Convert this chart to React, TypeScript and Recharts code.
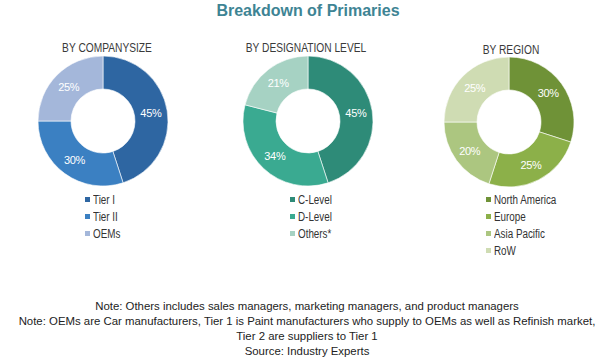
import { Pie, PieChart, Cell } from "recharts";

const companyLabels = ["Tier I", "Tier II", "OEMs"];
const companyValues = [45, 30, 25];
const companyColors = ["#2e66a2", "#3b80c2", "#a4b7da"];

const designationLabels = ["C-Level", "D-Level", "Others*"];
const designationValues = [45, 34, 21];
const designationColors = ["#2e8b78", "#3aaa91", "#a6d2c3"];

const regionLabels = ["North America", "Europe", "Asia Pacific", "RoW"];
const regionValues = [30, 25, 20, 25];
const regionColors = ["#6f9237", "#8cb049", "#acc680", "#cfdcb3"];

const notes = [
  "Note: Others includes sales managers, marketing managers, and product managers",
  "Note: OEMs are Car manufacturers, Tier 1 is Paint manufacturers who supply to OEMs as well as Refinish market,",
  "Tier 2 are suppliers to Tier 1",
  "Source: Industry Experts",
];

const RADIAN = Math.PI / 180;
const sans = "'Liberation Sans', Arial, sans-serif";

function renderLabel(props: any) {
  const { cx, cy, midAngle, innerRadius, outerRadius, value } = props;
  const r = (innerRadius + outerRadius) / 2;
  const x = cx + r * Math.cos(-midAngle * RADIAN);
  const y = cy + r * Math.sin(-midAngle * RADIAN);
  return (
    <text
      x={x}
      y={y}
      fill="#fff"
      textAnchor="middle"
      dominantBaseline="central"
      fontSize={11}
      fontFamily={sans}
      letterSpacing={-0.3}
    >
      {value}%
    </text>
  );
}

type DonutProps = {
  title: string;
  labels: string[];
  values: number[];
  colors: string[];
  cx: number;
  cy: number;
  titleX: number;
  titleY: number;
  legendX: number;
};

function Donut({ title, labels, values, colors, cx, cy, titleX, titleY, legendX }: DonutProps) {
  const data = labels.map((name, i) => ({ name, value: values[i] }));
  const size = 150;
  return (
    <>
      <div
        style={{
          position: "absolute",
          left: titleX - 100,
          top: titleY - 8,
          width: 200,
          textAlign: "center",
          fontFamily: sans,
          fontSize: 12,
          lineHeight: "16px",
          color: "#3a3a3a",
          transform: "scaleX(0.85)",
        }}
      >
        {title}
      </div>
      <div style={{ position: "absolute", left: cx - size / 2, top: cy - size / 2 }}>
        <PieChart width={size} height={size} margin={{ top: 0, right: 0, bottom: 0, left: 0 }}>
          <Pie
            data={data}
            dataKey="value"
            cx="50%"
            cy="50%"
            innerRadius={32}
            outerRadius={65}
            startAngle={90}
            endAngle={-270}
            stroke="#ffffff"
            strokeWidth={0.6}
            label={renderLabel}
            labelLine={false}
            isAnimationActive={false}
          >
            {data.map((d, i) => (
              <Cell key={d.name} fill={colors[i]} />
            ))}
          </Pie>
        </PieChart>
      </div>
      <div style={{ position: "absolute", left: legendX, top: 191 }}>
        {labels.map((name, i) => (
          <div
            key={name}
            style={{
              display: "flex",
              alignItems: "center",
              height: 17,
              fontFamily: sans,
              fontSize: 12,
              color: "#333",
            }}
          >
            <span
              style={{ display: "inline-block", width: 5, height: 5, background: colors[i], marginRight: 3 }}
            />
            <span style={{ display: "inline-block", transform: "scaleX(0.82)", transformOrigin: "left center" }}>
              {name}
            </span>
          </div>
        ))}
      </div>
    </>
  );
}

export default function App() {
  return (
    <div
      style={{
        position: "absolute",
        left: 0,
        top: 0,
        width: 600,
        height: 363,
        background: "#fff",
        overflow: "hidden",
      }}
    >
      <div
        style={{
          position: "absolute",
          left: 0,
          top: 0,
          width: 616,
          textAlign: "center",
          fontFamily: sans,
          fontWeight: "bold",
          fontSize: 16,
          lineHeight: "22px",
          color: "#3e8494",
        }}
      >
        Breakdown of Primaries
      </div>

      <Donut
        title="BY COMPANYSIZE"
        labels={companyLabels}
        values={companyValues}
        colors={companyColors}
        cx={102.5}
        cy={121}
        titleX={107}
        titleY={48}
        legendX={85}
      />
      <Donut
        title="BY DESIGNATION LEVEL"
        labels={designationLabels}
        values={designationValues}
        colors={designationColors}
        cx={308}
        cy={121}
        titleX={306}
        titleY={48}
        legendX={290}
      />
      <Donut
        title="BY REGION"
        labels={regionLabels}
        values={regionValues}
        colors={regionColors}
        cx={509}
        cy={122}
        titleX={511}
        titleY={50}
        legendX={486}
      />

      <div
        style={{
          position: "absolute",
          left: 0,
          top: 299,
          width: 614,
          textAlign: "center",
          fontFamily: sans,
          fontSize: 11.4,
          lineHeight: "15px",
          color: "#222",
          whiteSpace: "nowrap",
        }}
      >
        {notes.map((n) => (
          <div key={n}>{n}</div>
        ))}
      </div>
    </div>
  );
}
